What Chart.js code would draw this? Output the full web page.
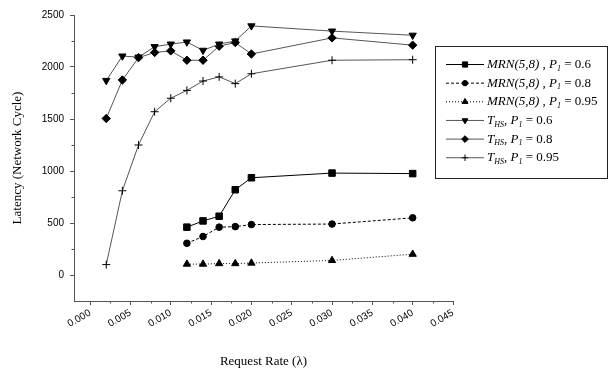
<!DOCTYPE html>
<html><head><meta charset="utf-8">
<script src="https://cdn.jsdelivr.net/npm/chart.js@4.4.1/dist/chart.umd.min.js"></script>
<style>html,body{margin:0;padding:0;background:#fff}#wrap{width:608px;height:371px;position:relative}</style>
</head><body><div id="wrap"><canvas id="c" width="608" height="371"></canvas></div>
<script>
// ---- data ----
const thsRates = [0.002, 0.004, 0.006, 0.008, 0.010, 0.012, 0.014, 0.016, 0.018, 0.020, 0.030, 0.040];
const mrnRates = [0.012, 0.014, 0.016, 0.018, 0.020, 0.030, 0.040];
const mrn06 = [460, 520, 565, 820, 935, 980, 975];
const mrn08 = [305, 370, 460, 465, 485, 490, 550];
const mrn095 = [105, 105, 110, 110, 115, 140, 200];
const ths06 = [1870, 2105, 2095, 2195, 2220, 2240, 2160, 2220, 2250, 2395, 2345, 2305];
const ths08 = [1505, 1875, 2090, 2140, 2155, 2065, 2065, 2200, 2235, 2125, 2280, 2210];
const ths095 = [100, 810, 1250, 1570, 1700, 1775, 1865, 1905, 1840, 1935, 2065, 2070];
const xTickValues = [0.000, 0.005, 0.010, 0.015, 0.020, 0.025, 0.030, 0.035, 0.040, 0.045];
const xMinorValues = [0.0025, 0.0075, 0.0125, 0.0175, 0.0225, 0.0275, 0.0325, 0.0375, 0.0425];
const yTickValues = [0, 500, 1000, 1500, 2000, 2500];
const yMinorValues = [250, 750, 1250, 1750, 2250];
const seriesName = ['MRN(5,8)', 'MRN(5,8)', 'MRN(5,8)', 'T', 'T', 'T'];
const seriesSub = ['', '', '', 'HS', 'HS', 'HS'];
const seriesP = ['0.6', '0.8', '0.95', '0.6', '0.8', '0.95'];
const xTitle = 'Request Rate (\u03BB)';
const yTitle = 'Latency (Network Cycle)';

const SERIF = "'Liberation Serif','Times New Roman',serif";
const NARROW = "'Liberation Sans Narrow','Arial Narrow','Liberation Sans',sans-serif";

function pts(xs, ys) { return xs.map((x, i) => ({x: x, y: ys[i]})); }

const styles = [
  {color: '#000', dash: [], style: 'rect', r: 4.6, rot: 0, lw: 1},
  {color: '#000', dash: [3, 2], style: 'circle', r: 3.3, rot: 0, lw: 1},
  {color: '#000', dash: [1, 2], style: 'triangle', r: 4.2, rot: 0, lw: 1},
  {color: '#555', dash: [], style: 'triangle', r: 4.2, rot: 180, lw: 1},
  {color: '#555', dash: [], style: 'rectRot', r: 4.2, rot: 0, lw: 1},
  {color: '#555', dash: [], style: 'cross', r: 4, rot: 0, lw: 1}
];
const seriesData = [pts(mrnRates, mrn06), pts(mrnRates, mrn08), pts(mrnRates, mrn095),
                    pts(thsRates, ths06), pts(thsRates, ths08), pts(thsRates, ths095)];

const datasets = seriesData.map((d, i) => ({
  data: d,
  borderColor: styles[i].color,
  borderWidth: styles[i].lw,
  borderDash: styles[i].dash,
  pointStyle: styles[i].style,
  pointRadius: styles[i].r,
  pointRotation: styles[i].rot,
  pointBackgroundColor: '#000',
  pointBorderColor: '#000',
  pointBorderWidth: 1,
  tension: 0,
  fill: false
}));

function drawMarker(ctx, st, x, y, r) {
  const H = Chart.helpers;
  ctx.save();
  ctx.fillStyle = '#000'; ctx.strokeStyle = '#000'; ctx.lineWidth = 1; ctx.setLineDash([]);
  if (H && H.drawPoint) {
    H.drawPoint(ctx, {pointStyle: st.style, radius: r, rotation: st.rot, borderWidth: 1}, x, y);
  }
  ctx.restore();
}

const extras = {
  id: 'extras',
  afterDraw(chart) {
    const ctx = chart.ctx;
    const xs = chart.scales.x, ys = chart.scales.y;
    // minor ticks
    ctx.save();
    ctx.strokeStyle = '#555'; ctx.lineWidth = 1;
    ctx.beginPath();
    xMinorValues.forEach(v => { const p = Math.round(xs.getPixelForValue(v)) + 0.5; ctx.moveTo(p, xs.top); ctx.lineTo(p, xs.top + 2.5); });
    yMinorValues.forEach(v => { const p = Math.round(ys.getPixelForValue(v)) + 0.5; ctx.moveTo(ys.right, p); ctx.lineTo(ys.right - 2.5, p); });
    ctx.stroke();
    ctx.restore();

    // legend
    const bx = 435.5, by = 46.5, bw = 172, bh = 132;
    ctx.save();
    ctx.strokeStyle = '#222'; ctx.lineWidth = 1;
    ctx.strokeRect(bx, by, bw, bh);
    ctx.textBaseline = 'middle';
    ctx.fillStyle = '#000';
    for (let i = 0; i < 6; i++) {
      const y = 64.5 + i * 18.65;
      const st = styles[i];
      ctx.save();
      ctx.strokeStyle = st.color; ctx.lineWidth = 1; ctx.setLineDash(st.dash);
      ctx.beginPath(); ctx.moveTo(446, y); ctx.lineTo(484, y); ctx.stroke();
      ctx.restore();
      drawMarker(ctx, st, 465, y, st.r * 0.8);
      let x = 487;
      const seg = (t, font, dy) => { ctx.font = font; ctx.fillText(t, x, y + (dy || 0)); x += ctx.measureText(t).width; };
      seg(seriesName[i], 'italic 13px ' + SERIF);
      if (seriesSub[i]) seg(seriesSub[i], 'italic 8px ' + SERIF, 4);
      seg(seriesSub[i] ? ', ' : ' , ', '13px ' + SERIF);
      seg('P', 'italic 13px ' + SERIF);
      seg('1', 'italic 8px ' + SERIF, 4);
      seg(' = ' + seriesP[i], '13px ' + SERIF);
    }
    ctx.restore();
  }
};

new Chart(document.getElementById('c'), {
  type: 'line',
  data: {datasets: datasets},
  options: {
    responsive: false,
    animation: false,
    devicePixelRatio: 1,
    layout: {padding: {top: 15, right: 155, bottom: 0, left: 0}},
    plugins: {legend: {display: false}, tooltip: {enabled: false}},
    scales: {
      x: {
        type: 'linear', min: -0.002, max: 0.045,
        afterBuildTicks: s => { s.ticks = xTickValues.map(v => ({value: v})); },
        afterFit: s => { s.height = 70; },
        grid: {drawOnChartArea: false, drawTicks: true, tickLength: 4, tickColor: '#555'},
        border: {color: '#555', width: 1},
        ticks: {autoSkip: false, minRotation: 30, maxRotation: 30, padding: 2, color: '#000',
                font: {family: NARROW, size: 10}, callback: v => Number(v).toFixed(3)},
        title: {display: true, text: xTitle, color: '#000', font: {family: SERIF, size: 13}, padding: {top: 0, bottom: 2}}
      },
      y: {
        type: 'linear', min: -250, max: 2500,
        afterBuildTicks: s => { s.ticks = yTickValues.map(v => ({value: v})); },
        afterFit: s => { s.width = 74; },
        grid: {drawOnChartArea: false, drawTicks: true, tickLength: 4, tickColor: '#555'},
        border: {color: '#555', width: 1},
        ticks: {padding: 6, color: '#000', font: {family: NARROW, size: 10}, callback: v => String(v)},
        title: {display: true, text: yTitle, color: '#000', font: {family: SERIF, size: 13}, padding: {top: 10, bottom: 0}}
      }
    }
  },
  plugins: [extras]
});
</script>
</body></html>
